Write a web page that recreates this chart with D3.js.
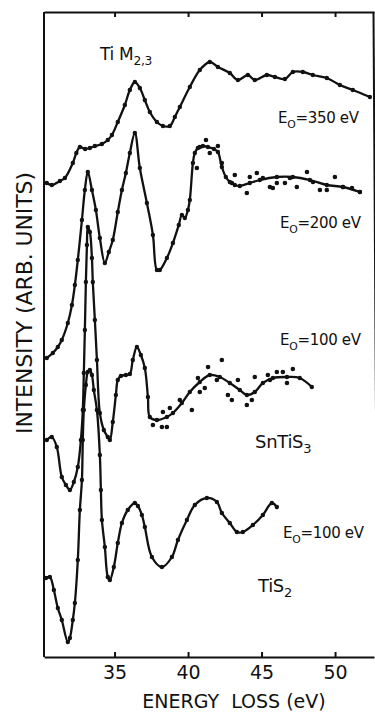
<!DOCTYPE html>
<html>
<head>
<meta charset="utf-8">
<script src="https://cdn.jsdelivr.net/npm/d3@7"></script>
<style>
  html, body { margin: 0; padding: 0; background: #fff; }
  svg { display: block; }
  text { font-family: "DejaVu Sans", sans-serif; fill: #111; }
</style>
</head>
<body>
<div id="chart"></div>
<script>
// Ti M2,3 energy-loss spectra, [energy loss (eV), intensity (arb. units)]
const spectrum350 = [
  [30.39,474],[30.73,472],[31.28,476],[31.62,479],[32.16,494],[32.40,504],[32.64,510],
  [33.00,508],[33.32,509],[33.66,511],[34.14,513],[34.54,517],[34.82,522],[35.22,535],
  [35.70,552],[36.04,567],[36.38,575],[36.72,569],[37.06,557],[37.40,545],[37.88,535],
  [38.29,531],[38.76,531],[39.10,540],[39.44,550],[40.12,570],[40.80,587],[41.48,595],
  [42.03,590],[42.84,584],[43.39,577],[44.07,582],[44.54,577],[45.36,582],[45.91,580],
  [46.59,578],[47.13,585],[47.81,585],[48.49,582],[49.44,579],[50.33,572],[51.21,567],
  [52.37,560]
];

const spectrum200 = [
  [30.39,299],[30.80,304],[31.14,310],[31.41,317],[31.82,334],[32.10,352],[32.30,372],
  [32.50,397],[32.78,437],[32.98,467],[33.18,485],[33.46,467],[33.73,447],[34.00,419],
  [34.34,394],[34.61,405],[34.88,417],[35.22,445],[35.50,467],[35.77,484],[36.04,504],
  [36.38,524],[36.72,489],[37.20,454],[37.61,422],[37.88,387],[38.08,387],[38.56,399],
  [38.97,414],[39.37,432],[39.58,442],[39.78,439],[39.99,447],[40.12,457],[40.33,494],
  [40.46,504],[40.67,509],[41.01,511],[41.35,510],[41.76,508],[42.03,505],[42.30,490],
  [42.57,480],[42.84,475],[43.18,472],[43.52,471],[44.20,474],[44.88,477],[46.04,480],
  [47.13,480],[48.29,477],[49.44,472],[50.54,470],[51.69,465]
];

// measured points scattered round the fitted tail of the 200 eV curve
const scatter200 = [
  [40.60,489],[40.80,510],[41.22,517],[41.48,504],[42.03,511],[42.30,494],[42.98,474],
  [43.18,482],[44.00,464],[44.20,480],[44.68,484],[45.09,479],[45.57,470],[45.77,469],
  [46.04,474],[46.59,474],[46.93,479],[47.40,470],[48.09,485],[48.50,475],[48.97,467],
  [49.44,467],[49.99,480],[50.54,470],[51.15,469],[51.69,465]
];

const spectrumSnTiS3 = [
  [30.39,217],[30.73,220],[31.07,210],[31.41,180],[31.69,172],[31.96,167],[32.23,175],
  [32.50,190],[32.71,217],[32.84,247],[32.91,284],[32.98,327],[33.05,375],[33.12,412],
  [33.18,430],[33.32,425],[33.46,399],[33.52,375],[33.66,337],[33.80,297],[34.00,244],
  [34.27,227],[34.54,220],[34.68,217],[34.88,235],[35.09,262],[35.22,277],[35.43,281],
  [35.77,282],[36.04,283],[36.24,297],[36.52,310],[36.79,302],[37.06,289],[37.27,260],
  [37.40,240],[37.88,237],[38.56,240],[38.97,244],[39.58,254],[40.12,265],[40.80,275],
  [41.48,282],[42.16,280],[42.84,274],[43.52,267],[44.00,262],[44.54,265],[45.09,274],
  [45.77,279],[46.73,280],[47.60,279],[48.42,270]
];

const scatterSnTiS3 = [
  [37.61,232],[38.22,230],[38.29,245],[38.56,230],[38.76,249],[39.44,257],[40.26,247],
  [40.67,279],[40.80,265],[41.14,269],[41.36,290],[41.96,277],[42.30,297],[42.71,262],
  [42.98,257],[43.39,277],[44.00,252],[44.34,257],[44.54,280],[45.43,282],[45.57,277],
  [46.04,285],[46.45,285],[46.73,274],[47.13,288]
];

const spectrumTiS2 = [
  [30.33,79],[30.60,80],[30.87,67],[31.14,49],[31.41,37],[31.82,15],[31.96,19],
  [32.16,37],[32.30,54],[32.50,97],[32.64,147],[32.78,177],[32.84,217],[32.91,247],
  [33.05,272],[33.18,285],[33.32,287],[33.46,282],[33.59,267],[33.80,247],[34.00,202],
  [34.07,167],[34.14,137],[34.34,110],[34.54,80],[34.68,77],[34.95,90],[35.22,114],
  [35.50,134],[35.90,147],[36.38,154],[36.59,151],[36.86,142],[37.06,130],[37.54,100],
  [38.22,90],[38.90,100],[39.31,117],[39.92,137],[40.46,152],[41.28,159],[41.96,155],
  [42.30,144],[42.84,134],[43.32,125],[43.73,125],[44.41,132],[45.09,142],[45.70,154],
  [46.04,150]
];

const xTicks = [35, 40, 45, 50];

function addSubText(svg, px, py, main, sub, rest, size) {
  const t = svg.append("text")
    .attr("x", px)
    .attr("y", py)
    .attr("font-size", size)
    .attr("letter-spacing", -0.3);
  t.append("tspan").text(main);
  t.append("tspan")
    .attr("font-size", size * 0.72)
    .attr("dy", size * 0.3)
    .text(sub);
  if (rest) {
    t.append("tspan")
      .attr("dy", -size * 0.3)
      .text(rest);
  }
  return t;
}

function drawChart() {
  const width = 375;
  const height = 713;

  const svg = d3.select("#chart")
    .append("svg")
    .attr("width", width)
    .attr("height", height);

  const x = d3.scaleLinear().domain([30.2, 52.65]).range([44, 374]);
  const y = d3.scaleLinear().domain([0, 645]).range([657, 12]);

  // frame
  const bottom = svg.append("g")
    .attr("transform", `translate(0,${y(0)})`)
    .call(d3.axisBottom(x).tickValues(xTicks).tickSizeInner(-5).tickSizeOuter(0).tickPadding(9));
  bottom.select(".domain").attr("stroke", "#111").attr("stroke-width", 2);
  bottom.selectAll(".tick line").attr("stroke", "#111").attr("stroke-width", 2);
  bottom.selectAll(".tick text")
    .attr("font-size", 19)
    .attr("font-family", "DejaVu Sans, sans-serif")
    .attr("fill", "#111");

  const top = svg.append("g")
    .attr("transform", `translate(0,${y(645)})`)
    .call(d3.axisTop(x).tickValues(xTicks).tickSizeInner(-5).tickSizeOuter(0).tickFormat(""));
  top.select(".domain").attr("stroke", "#111").attr("stroke-width", 2);
  top.selectAll(".tick line").attr("stroke", "#111").attr("stroke-width", 2);

  svg.append("line")
    .attr("x1", x(30.2)).attr("x2", x(30.2))
    .attr("y1", y(645)).attr("y2", y(0))
    .attr("stroke", "#111").attr("stroke-width", 2);

  // right edge of the scanned frame runs off the page
  svg.append("line")
    .attr("x1", 373.5).attr("x2", 377.5)
    .attr("y1", y(645)).attr("y2", y(0))
    .attr("stroke", "#111").attr("stroke-width", 2);

  const line = d3.line()
    .x(d => x(d[0]))
    .y(d => y(d[1]))
    .curve(d3.curveCatmullRom.alpha(0.5));

  const curves = [spectrum350, spectrum200, spectrumSnTiS3, spectrumTiS2];
  curves.forEach(data => {
    svg.append("path")
      .attr("d", line(data))
      .attr("fill", "none")
      .attr("stroke", "#111")
      .attr("stroke-width", 2.3)
      .attr("stroke-linejoin", "round");

    svg.append("g")
      .selectAll("circle")
      .data(data)
      .join("circle")
      .attr("cx", d => x(d[0]))
      .attr("cy", d => y(d[1]))
      .attr("r", 2.2)
      .attr("fill", "#111");
  });

  [scatter200, scatterSnTiS3].forEach(data => {
    svg.append("g")
      .selectAll("circle")
      .data(data)
      .join("circle")
      .attr("cx", d => x(d[0]))
      .attr("cy", d => y(d[1]))
      .attr("r", 2.3)
      .attr("fill", "#111");
  });

  // labels
  addSubText(svg, 100, 60, "Ti M", "2,3", null, 17);
  addSubText(svg, 278, 123, "E", "O", "=350 eV", 15);
  addSubText(svg, 280, 228, "E", "O", "=200 eV", 15);
  addSubText(svg, 280, 345, "E", "O", "=100 eV", 15);
  addSubText(svg, 255, 448, "SnTiS", "3", null, 18);
  addSubText(svg, 283, 538, "E", "O", "=100 eV", 15);
  addSubText(svg, 258, 592, "TiS", "2", null, 18);

  svg.append("text")
    .attr("x", 234)
    .attr("y", 708)
    .attr("text-anchor", "middle")
    .attr("font-size", 19)
    .attr("xml:space", "preserve")
    .text("ENERGY  LOSS (eV)");

  svg.append("text")
    .attr("transform", "translate(32,303) rotate(-90)")
    .attr("text-anchor", "middle")
    .attr("font-size", 22)
    .attr("textLength", 262)
    .attr("lengthAdjust", "spacingAndGlyphs")
    .text("INTENSITY (ARB. UNITS)");
}

document.addEventListener("DOMContentLoaded", drawChart);
</script>
</body>
</html>
